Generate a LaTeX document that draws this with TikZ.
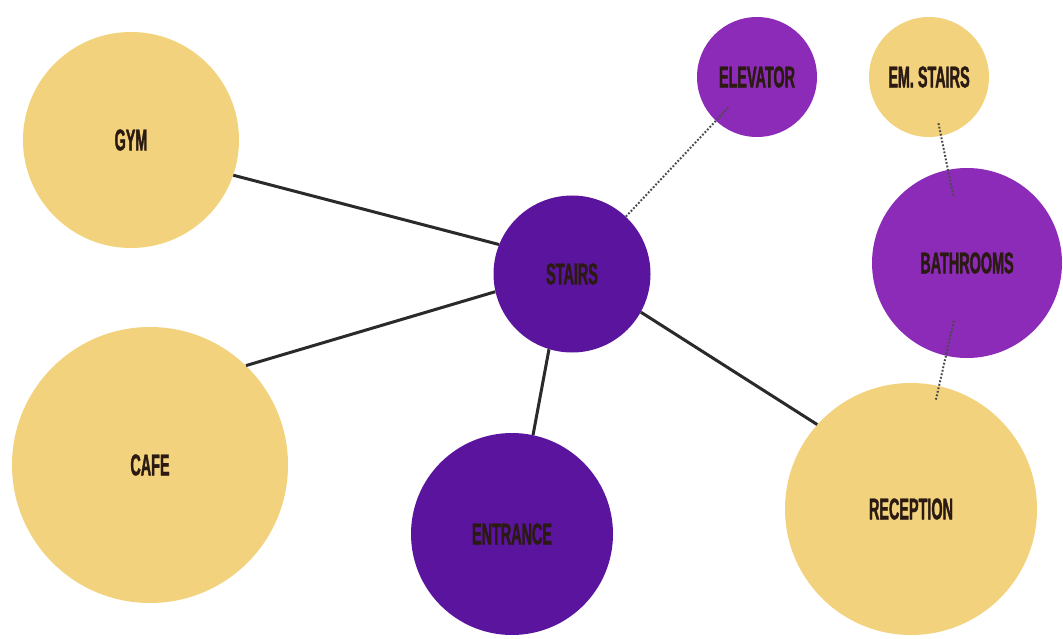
\documentclass[tikz,border=0pt]{standalone}
\usepackage{fontspec}
\newfontfamily\labelfont[FakeStretch=0.48,FakeBold=1.2]{Liberation Sans Bold}
\begin{document}
\begin{tikzpicture}[x=1pt,y=-1pt,
  bubble/.style={circle,inner sep=0pt,draw=none,text=labeltext,font=\labelfont\fontsize{30}{30}\selectfont},
  pale/.style={bubble,fill=paleyellow},
  deep/.style={bubble,fill=deepviolet},
  mid/.style={bubble,fill=midviolet},
  link/.style={line width=3pt,draw=linegray},
  dotlink/.style={line width=2pt,draw=dotgray,dash pattern=on 1.8pt off 1.8pt}]
\definecolor{paleyellow}{HTML}{F2D27C}
\definecolor{deepviolet}{HTML}{5A149E}
\definecolor{midviolet}{HTML}{8C2BB8}
\definecolor{labeltext}{HTML}{2A1A12}
\definecolor{linegray}{HTML}{2A2A2A}
\definecolor{dotgray}{HTML}{4A4A4A}
\useasboundingbox (0,0) rectangle (1063,639);
\fill[white] (0,0) rectangle (1063,639);
\node[pale,minimum size=216pt] (gym) at (131,140) {GYM};
\node[pale,minimum size=276pt] (cafe) at (150,465) {CAFE};
\node[deep,minimum size=157pt] (stairs) at (572,274) {STAIRS};
\node[mid,minimum size=120pt] (elevator) at (757,77) {ELEVATOR};
\node[pale,minimum size=120pt] (emstairs) at (929,77) {EM. STAIRS};
\node[mid,minimum size=190pt] (bath) at (967,263) {BATHROOMS};
\node[deep,minimum size=202pt] (entrance) at (512,534) {ENTRANCE};
\node[pale,minimum size=252pt] (reception) at (911,509) {RECEPTION};
\draw[link] (gym.341) -- (stairs.158);
\draw[link] (cafe.46) -- (stairs.193);
\draw[link] (stairs.253) -- (entrance.78);
\draw[link] (stairs.331) -- (reception.138);
\draw[dotlink,shorten >=-18pt] (stairs) -- (elevator);
\draw[dotlink,shorten <=-13pt,shorten >=-27pt] (emstairs) -- (bath);
\draw[dotlink,shorten <=-36pt,shorten >=-14pt] (bath) -- (reception);
\end{tikzpicture}
\end{document}
